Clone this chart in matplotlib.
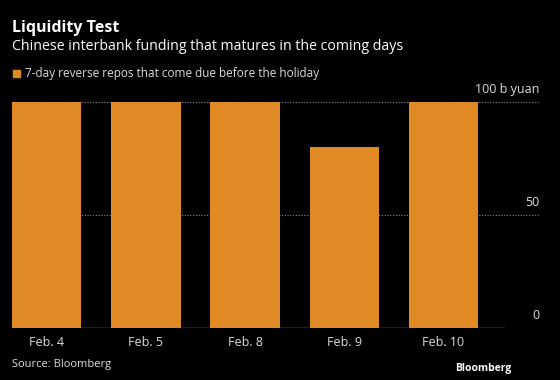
import matplotlib
matplotlib.use("Agg")
import matplotlib.pyplot as plt

categories = ["Feb. 4", "Feb. 5", "Feb. 8", "Feb. 9", "Feb. 10"]
values = [100, 100, 100, 80, 100]
yticks = [0, 50, 100]
ytick_labels = ["0", "50", "100 b yuan"]

plt.rcParams['font.family'] = ['Open Sans', 'DejaVu Sans']
ORANGE = "#E08A26"
TXT = "#DDDDDD"

fig = plt.figure(figsize=(5.6, 3.8), dpi=100, facecolor="black")
W, H = 560, 380
ax = fig.add_axes([12 / W, 1 - 328 / H, (505 - 12) / W, (328 - 102) / H], facecolor="black")
x = list(range(len(categories)))
ax.bar(x, values, width=0.7, color=ORANGE, zorder=2)
ax.set_xlim(-0.35, 4.62)
ax.set_ylim(0, 100)
for s in ax.spines.values():
    s.set_visible(False)
ax.axhline(0, color="#999999", lw=1, zorder=3)
grid_end = (540 - 12) / (505 - 12)
for t in yticks[1:]:
    ax.plot([0, grid_end], [t, t], transform=ax.get_yaxis_transform(), color="#888888",
            lw=0.8, ls=(0, (1, 1.5)), zorder=1, clip_on=False)
ax.set_yticks([])
ax.set_xticks(x)
ax.set_xticklabels(categories, color=TXT, fontsize=9)
ax.tick_params(axis='x', length=0, pad=6)
for t, lab in zip(yticks, ytick_labels):
    ax.annotate(lab, xy=(1.0, t), xycoords=('axes fraction', 'data'),
                xytext=(25, 4), textcoords='offset points', ha='right', va='bottom',
                color=TXT, fontsize=9)

fig.text(12 / W, 1 - 28 / H, "Liquidity Test", color="white", fontsize=11.5,
         fontweight="bold", va="center", ha="left")
fig.text(12 / W, 1 - 47 / H, "Chinese interbank funding that matures in the coming days",
         color="white", fontsize=10.2, va="center", ha="left")
fig.patches.append(plt.Rectangle((13 / W, 1 - 77 / H), 7 / W, 7 / H, color=ORANGE,
                                 transform=fig.transFigure, figure=fig))
fig.text(25 / W, 1 - 73 / H, "7-day reverse repos that come due before the holiday",
         color=TXT, fontsize=8.5, va="center", ha="left")
fig.text(12 / W, 1 - 364 / H, "Source: Bloomberg", color=TXT, fontsize=8,
         va="center", ha="left")
fig.text(511 / W, 1 - 368 / H, "Bloomberg", color="white", fontsize=7.5,
         fontweight="bold", va="center", ha="right")

fig.savefig("out.png", dpi=100, facecolor="black")
